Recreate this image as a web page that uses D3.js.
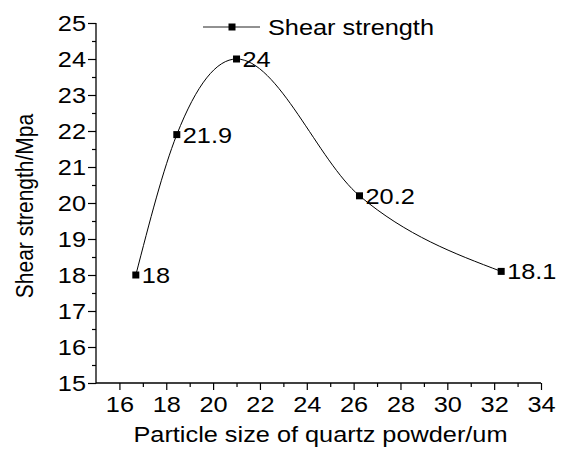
<!DOCTYPE html>
<html>
<head>
<meta charset="utf-8">
<script src="https://cdn.jsdelivr.net/npm/d3@7/dist/d3.min.js"></script>
<style>
html,body{margin:0;padding:0;background:#fff;}
svg{display:block;}
text{font-family:"Liberation Sans",Arial,sans-serif;fill:#000;}
</style>
</head>
<body>
<svg id="chart" width="563" height="450"></svg>
<script>
const particleSize = [16.7, 18.45, 21.0, 26.25, 32.3];
const shearStrength = [18, 21.9, 24, 20.2, 18.1];
const pointLabels = ["18", "21.9", "24", "20.2", "18.1"];
const xTickValues = [16, 18, 20, 22, 24, 26, 28, 30, 32, 34];
const yTickValues = [15, 16, 17, 18, 19, 20, 21, 22, 23, 24, 25];
const seriesName = "Shear strength";
const xTitle = "Particle size of quartz powder/um";
const yTitle = "Shear strength/Mpa";

const svg = d3.select("#chart");
const L = 96, R = 541, T = 23, B = 383;
const x = d3.scaleLinear().domain([15, 34]).range([L, R]);
const y = d3.scaleLinear().domain([15, 25]).range([B, T]);

const fs = 22;
const stretch = 1.15;
const FONT = '"Liberation Sans",Arial,sans-serif';

// Y axis
const yMinor = d3.range(15.5, 25, 1);
svg.append("g").attr("transform", `translate(${L},0)`)
  .call(d3.axisLeft(y).tickValues(yTickValues).tickFormat(d3.format("d")).tickSize(8).tickPadding(2));
svg.append("g").attr("transform", `translate(${L},0)`)
  .call(d3.axisLeft(y).tickValues(yMinor).tickFormat("").tickSize(4));

// X axis
const xMinor = d3.range(17, 34, 2);
svg.append("g").attr("transform", `translate(0,${B})`)
  .call(d3.axisBottom(x).tickValues(xTickValues).tickFormat(d3.format("d")).tickSize(7).tickPadding(6));
svg.append("g").attr("transform", `translate(0,${B})`)
  .call(d3.axisBottom(x).tickValues(xMinor).tickFormat("").tickSize(4));

svg.selectAll(".domain").remove();
svg.selectAll(".tick line").attr("stroke", "#000").attr("stroke-width", 1.2);
svg.selectAll(".tick text").style("font-size", fs + "px").style("font-family", FONT).attr("fill", "#000");

svg.append("line").attr("x1", L).attr("x2", L).attr("y1", T).attr("y2", B + 0.6).attr("stroke", "#000").attr("stroke-width", 1.3);
svg.append("line").attr("x1", L).attr("x2", R).attr("y1", B).attr("y2", B).attr("stroke", "#000").attr("stroke-width", 1.3);

// Titles
svg.append("text").attr("class", "hstretch").attr("x", (L + R) / 2 + 2).attr("y", 442).attr("text-anchor", "middle")
  .style("font-size", fs + "px").text(xTitle);
svg.append("text").attr("transform", `translate(33,${(T + B) / 2 + 3}) rotate(-90) scale(1,${stretch})`).attr("text-anchor", "middle")
  .style("font-size", (fs - 1) + "px").text(yTitle);

// Curve
const data = particleSize.map((v, i) => ({x: v, y: shearStrength[i], label: pointLabels[i]}));
const line = d3.line().x(d => x(d.x)).y(d => y(d.y)).curve(d3.curveMonotoneX);
svg.append("path").datum(data).attr("d", line).attr("fill", "none").attr("stroke", "#000").attr("stroke-width", 1);

// Markers
const ms = 7;
svg.selectAll("rect.pt").data(data).enter().append("rect").attr("class", "pt")
  .attr("x", d => x(d.x) - ms / 2).attr("y", d => y(d.y) - ms / 2)
  .attr("width", ms).attr("height", ms).attr("fill", "#000");

// Point labels
svg.selectAll("text.lbl").data(data).enter().append("text").attr("class", "lbl hstretch")
  .attr("x", d => x(d.x) + 6).attr("y", d => y(d.y) + 8)
  .style("font-size", fs + "px").text(d => d.label);

// Legend
svg.append("line").attr("x1", 203).attr("x2", 260).attr("y1", 27).attr("y2", 27).attr("stroke", "#222").attr("stroke-width", 1);
svg.append("rect").attr("x", 232 - ms / 2).attr("y", 27 - ms / 2).attr("width", ms).attr("height", ms).attr("fill", "#000");
svg.append("text").attr("class", "hstretch").attr("x", 268).attr("y", 35).style("font-size", fs + "px").text(seriesName);

// Reference text is horizontally wider than its height suggests: stretch glyphs
svg.selectAll(".tick text").classed("hstretch", true);
svg.selectAll("text.hstretch").each(function(){
  const w = this.getComputedTextLength();
  if (w > 0) {
    d3.select(this).attr("textLength", w * stretch).attr("lengthAdjust", "spacingAndGlyphs");
  }
});
</script>
</body>
</html>
